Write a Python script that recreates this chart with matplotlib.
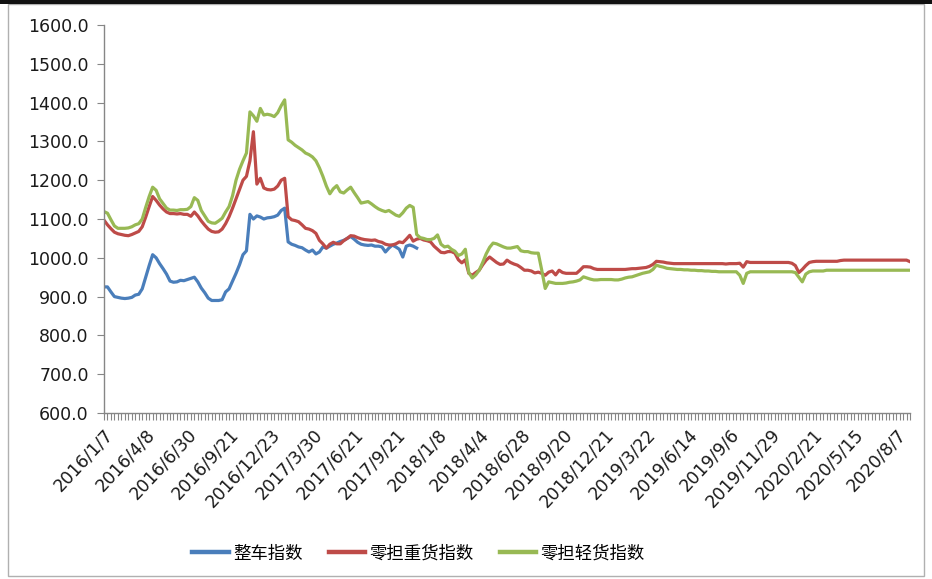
#!/usr/bin/env python3
"""
Weekly freight price indices (FTL vs. LTL heavy / light cargo), 2016-2020.

Saves the line chart to out.png.
"""

import matplotlib
matplotlib.use("Agg")
import matplotlib.pyplot as plt
from matplotlib.patches import Rectangle
from matplotlib.ticker import FixedLocator, FormatStrFormatter

# Category labels shown on the x axis (every 12th observation)
date_labels = [
    "2016/1/7", "2016/4/8", "2016/6/30", "2016/9/21", "2016/12/23",
    "2017/3/30", "2017/6/21", "2017/9/21", "2018/1/8", "2018/4/4",
    "2018/6/28", "2018/9/20", "2018/12/21", "2019/3/22", "2019/6/14",
    "2019/9/6", "2019/11/29", "2020/2/21", "2020/5/15", "2020/8/7",
]
label_step = 12

series_names = ["整车指数", "零担重货指数", "零担轻货指数"]

# 整车指数 (series stops at the start of 2018)
ftl_index = [
    925, 925, 912, 900, 898, 896, 895, 896, 898, 904,
    906, 920, 950, 980, 1008, 1000, 985, 972, 958, 940,
    937, 938, 942, 941, 944, 947, 950, 938, 922, 910,
    896, 890, 890, 890, 892, 912, 920, 940, 960, 982,
    1008, 1018, 1112, 1100, 1108, 1105, 1100, 1103, 1104, 1106,
    1110, 1122, 1128, 1041, 1035, 1032, 1028, 1026, 1020, 1015,
    1020, 1010, 1015, 1028, 1025, 1030, 1035, 1038, 1042, 1045,
    1050, 1055, 1048, 1040, 1035, 1033, 1032, 1033, 1030, 1030,
    1028, 1015, 1025, 1033, 1028, 1022, 1002, 1030, 1033, 1030,
    1025,
]

# 零担重货指数
ltl_heavy_index = [
    1097, 1085, 1075, 1066, 1062, 1060, 1058, 1057, 1060, 1064,
    1068, 1080, 1105, 1132, 1158, 1148, 1136, 1126, 1118, 1114,
    1114, 1113, 1114, 1112, 1112, 1107, 1118, 1108, 1095, 1084,
    1074, 1068, 1066, 1067, 1074, 1088, 1106, 1128, 1152, 1176,
    1200, 1210, 1250, 1325, 1190, 1205, 1180, 1176, 1175, 1177,
    1185, 1200, 1205, 1106, 1098, 1096, 1093, 1085, 1076, 1074,
    1070, 1063, 1045, 1036, 1025, 1035, 1040, 1036, 1036, 1044,
    1050, 1057, 1056, 1052, 1049, 1047, 1046, 1045, 1046, 1042,
    1040, 1035, 1033, 1033, 1036, 1041, 1039, 1048, 1058, 1043,
    1048, 1050, 1046, 1044, 1041, 1030, 1022, 1014, 1013, 1016,
    1016, 1012, 995, 987, 995, 960, 955, 962, 968, 982,
    994, 1002, 995, 988, 983, 984, 994, 988, 984, 981,
    975, 968, 968, 966, 961, 963, 960, 955, 963, 966,
    956, 968, 962, 960, 960, 960, 960, 968, 977, 977,
    976, 972, 970, 970, 970, 970, 970, 970, 970, 970,
    970, 971, 972, 972, 973, 974, 975, 978, 983, 991,
    990, 989, 987, 986, 985, 985, 985, 985, 985, 985,
    985, 985, 985, 985, 985, 985, 985, 985, 985, 984,
    985, 985, 985, 986, 976, 990, 988, 988, 988, 988,
    988, 988, 988, 988, 988, 988, 988, 988, 986, 980,
    962, 970, 980, 988, 990, 991, 991, 991, 991, 991,
    991, 991, 993, 994, 994, 994, 994, 994, 994, 994,
    994, 994, 994, 994, 994, 994, 994, 994, 994, 994,
    994, 994, 990,
]

# 零担轻货指数
ltl_light_index = [
    1119, 1115, 1098, 1082, 1076, 1076, 1076, 1077, 1080, 1085,
    1088, 1100, 1130, 1158, 1182, 1174, 1152, 1140, 1128, 1123,
    1123, 1122, 1124, 1124, 1125, 1132, 1155, 1148, 1122, 1108,
    1094, 1090, 1089, 1095, 1102, 1118, 1132, 1160, 1200, 1228,
    1250, 1270, 1376, 1366, 1352, 1385, 1368, 1370, 1368, 1364,
    1374, 1392, 1407, 1304, 1298, 1290, 1284, 1278, 1270, 1266,
    1260, 1250, 1232, 1210, 1185, 1165, 1178, 1186, 1170, 1167,
    1175, 1182, 1168, 1155, 1141, 1143, 1145, 1139, 1132, 1126,
    1122, 1119, 1122, 1116, 1110, 1107, 1116, 1128, 1135, 1130,
    1060, 1052, 1050, 1047, 1047, 1050, 1059, 1035, 1028, 1030,
    1022, 1017, 1006, 1010, 1022, 962, 948, 956, 968, 988,
    1010, 1027, 1038, 1036, 1032, 1028, 1025, 1025, 1027, 1029,
    1018, 1016, 1016, 1013, 1012, 1012, 968, 921, 938, 936,
    934, 934, 934, 935, 937, 938, 940, 943, 951, 948,
    945, 943, 943, 944, 944, 944, 944, 943, 943, 945,
    948, 950, 951, 954, 957, 960, 962, 964, 970, 981,
    978, 976, 973, 972, 971, 970, 970, 969, 969, 968,
    968, 967, 967, 966, 966, 965, 965, 964, 964, 964,
    964, 964, 964, 955, 934, 960, 964, 964, 964, 964,
    964, 964, 964, 964, 964, 964, 964, 964, 964, 962,
    950, 938, 958, 964, 966, 966, 966, 966, 968, 968,
    968, 968, 968, 968, 968, 968, 968, 968, 968, 968,
    968, 968, 968, 968, 968, 968, 968, 968, 968, 968,
    968, 968, 968,
]

COLORS = ["#4a7ebb", "#be4b48", "#98b954"]
AXIS_GREY = "#868686"


def draw_indices(ax):
    """Plot the three index series against the observation number."""
    for values, name, color in zip(
            [ftl_index, ltl_heavy_index, ltl_light_index], series_names, COLORS):
        ax.plot(range(len(values)), values, color=color, linewidth=2.3,
                label=name, solid_joinstyle="round")


def style_axes(ax, n_points):
    ax.set_xlim(0, n_points - 1)
    ax.set_ylim(600, 1600)

    for side in ("top", "right"):
        ax.spines[side].set_visible(False)
    for side in ("left", "bottom"):
        ax.spines[side].set_color(AXIS_GREY)
        ax.spines[side].set_linewidth(1.0)

    ax.set_yticks(range(600, 1601, 100))
    ax.yaxis.set_major_formatter(FormatStrFormatter("%.1f"))

    ax.set_xticks(range(0, len(date_labels) * label_step, label_step))
    ax.set_xticklabels(date_labels, rotation=47, ha="right", va="top",
                       rotation_mode="anchor")
    ax.xaxis.set_minor_locator(FixedLocator(range(n_points)))

    ax.tick_params(axis="both", which="both", direction="out",
                   color=AXIS_GREY, width=0.8, length=5,
                   labelsize=12.5, labelcolor="#1a1a1a")
    ax.tick_params(axis="x", which="major", pad=4)
    ax.tick_params(axis="y", pad=6)


def main():
    fig = plt.figure(figsize=(9.32, 5.79), dpi=100)
    ax = fig.add_axes([0.1116, 0.2867, 0.9764 - 0.1116, 0.9568 - 0.2867])

    draw_indices(ax)
    style_axes(ax, len(ltl_heavy_index))

    leg = fig.legend(loc="center", bbox_to_anchor=(0.449, 0.044), ncol=3,
                     frameon=False, handlelength=2.1, handletextpad=0.25,
                     columnspacing=1.5,
                     prop={"family": ["Noto Sans CJK SC", "DejaVu Sans"],
                           "size": 12.5})
    for line in leg.get_lines():
        line.set_linewidth(3.2)

    # chart area border and dark top edge
    fig.add_artist(Rectangle((8 / 932, 3 / 579), 916 / 932, 572 / 579,
                             transform=fig.transFigure, fill=False,
                             edgecolor="#b0b0b0", linewidth=1.0))
    fig.add_artist(Rectangle((0, 1 - 4 / 579), 1, 4 / 579,
                             transform=fig.transFigure, color="#111111",
                             linewidth=0))

    fig.savefig("out.png", dpi=100)


if __name__ == "__main__":
    main()
